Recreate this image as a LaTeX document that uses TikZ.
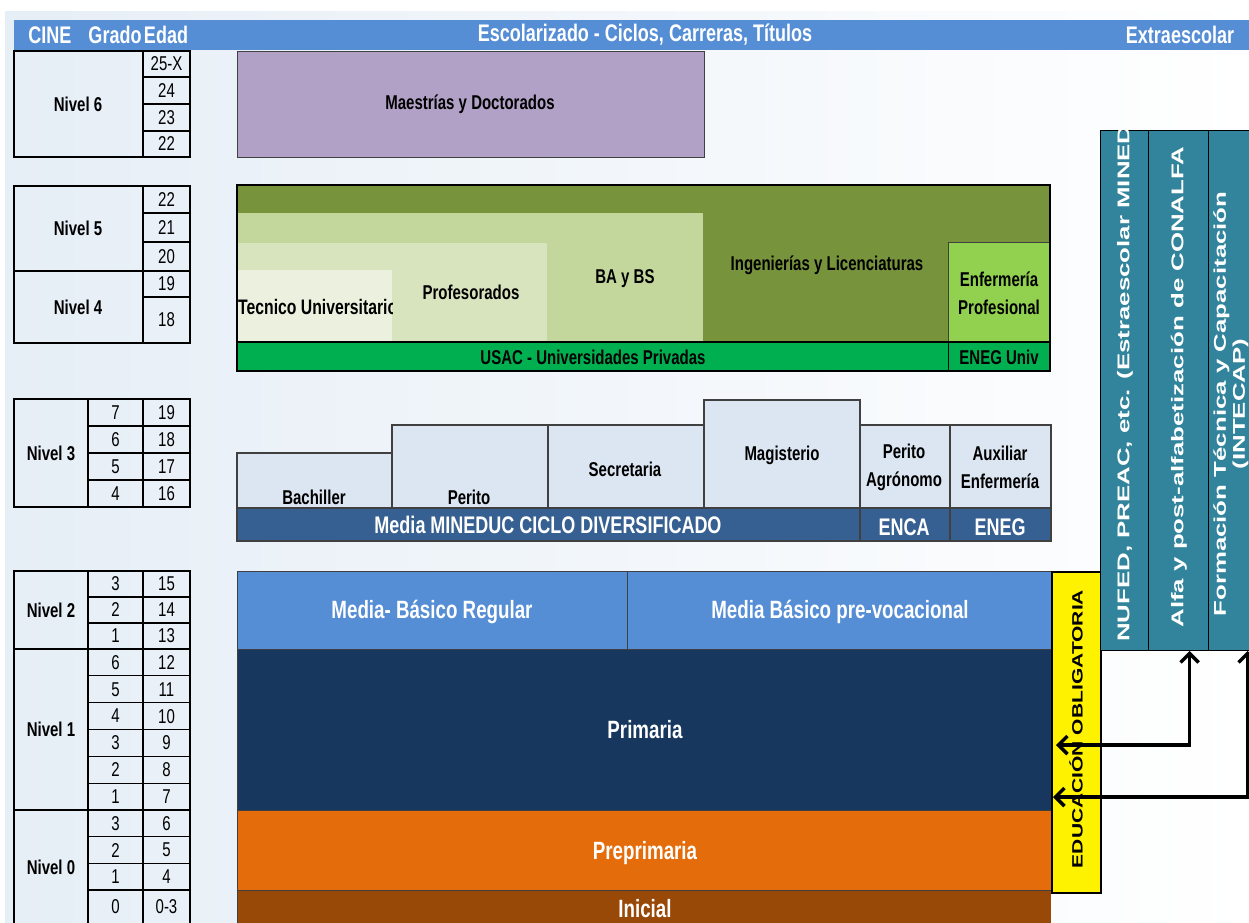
\documentclass[tikz,border=0pt]{standalone}
\usepackage{fontspec}
\setmainfont[FakeStretch=0.75]{Liberation Sans}
\newfontfamily\vfont[FakeStretch=1.52]{Liberation Sans}
\newfontfamily\ofont[FakeStretch=1.4]{Liberation Sans}
\usetikzlibrary{arrows.meta}
\definecolor{hdrblue}{HTML}{558ED5}
\definecolor{lilac}{HTML}{B2A1C7}
\definecolor{olive}{HTML}{77933C}
\definecolor{olivelt}{HTML}{C3D69B}
\definecolor{olivelttwo}{HTML}{D7E4BD}
\definecolor{oliveltthree}{HTML}{EBF1DE}
\definecolor{limegreen}{HTML}{92D050}
\definecolor{brightgreen}{HTML}{00B050}
\definecolor{paleblue}{HTML}{DCE6F2}
\definecolor{steelblue}{HTML}{376092}
\definecolor{midblue}{HTML}{558ED5}
\definecolor{navy}{HTML}{17375E}
\definecolor{orangeb}{HTML}{E46C0A}
\definecolor{brownb}{HTML}{984807}
\definecolor{tealb}{HTML}{31849B}
\definecolor{bgblue}{HTML}{E6EEF6}
\definecolor{edgegray}{HTML}{404040}
\begin{document}
\begin{tikzpicture}[x=1pt,y=-1pt,
  tline/.style={draw=black,line width=1.3pt},
  nivel/.style={font=\fontsize{20}{22}\selectfont\bfseries,inner sep=0pt},
  num/.style={font=\fontsize{20}{22}\selectfont,inner sep=0pt},
  hdr/.style={text=white,font=\fontsize{24}{26}\selectfont\bfseries,inner sep=0pt},
  blk/.style={font=\fontsize{20}{28}\selectfont\bfseries,inner sep=0pt,align=center},
  wht/.style={text=white,font=\fontsize{25}{28}\selectfont\bfseries,inner sep=0pt},
  whtm/.style={text=white,font=\fontsize{24}{28}\selectfont\bfseries,inner sep=0pt},
  dbox/.style={fill=paleblue,draw=edgegray,line width=1.2pt},
  bar/.style={draw=black,line width=1pt,fill=tealb,minimum height=520pt,anchor=north west,inner sep=0pt},
  vtxt/.style={rotate=90,text=white,font=\vfont\bfseries\fontsize{17}{19}\selectfont,inner sep=0pt,align=center},
  flow/.style={draw=black,line width=3.5pt,{Straight Barb[length=9pt,width=18pt]}-{Straight Barb[length=9pt,width=18pt]}},
]
\useasboundingbox (0,0) rectangle (1249,922);
\clip (0,0) rectangle (1249,922);
\fill[white] (0,0) rectangle (1249,922);
\shade[left color=bgblue,right color=white] (5,11) rectangle (1249,922);

% header
\fill[hdrblue] (14,20) rectangle (1249,50);
\node[hdr] (hcine) at (50,35) {CINE};
\node[hdr] (hgrado) at (115,35) {Grado};
\node[hdr] (hedad) at (166,35) {Edad};
\node[hdr] (hesc) at (645,35) {Escolarizado - Ciclos, Carreras, Títulos};
\node[hdr] (hext) at (1180,35) {Extraescolar};

% table: Nivel 6
\draw[tline] (14,51) rectangle (190,157) (143,51) -- (143,157);
\foreach \yy in {77,104,131} \draw[tline] (143,\yy) -- (190,\yy);
\node[nivel] (n6) at (78,104) {Nivel 6};
\foreach \t/\yy [count=\i] in {25-X/64,24/90.5,23/117.5,22/144} \node[num] (esix\i) at (166.5,\yy) {\t};

% table: Nivel 5 / 4
\draw[tline] (14,186) rectangle (190,343) (143,186) -- (143,343) (14,271) -- (190,271);
\foreach \yy in {213,242,297} \draw[tline] (143,\yy) -- (190,\yy);
\node[nivel] (n5) at (78,228.5) {Nivel 5};
\node[nivel] (n4) at (78,307) {Nivel 4};
\foreach \t/\yy [count=\i] in {22/199.5,21/227.5,20/256.5,19/284,18/320} \node[num] (efive\i) at (166.5,\yy) {\t};

% table: Nivel 3
\draw[tline] (14,399) rectangle (190,507) (88,399) -- (88,507) (143,399) -- (143,507);
\foreach \yy in {426,453,480} \draw[tline] (88,\yy) -- (190,\yy);
\node[nivel] (n3) at (51,453) {Nivel 3};
\foreach \g/\e/\yy [count=\i] in {7/19/412.5,6/18/439.5,5/17/466.5,4/16/493.5} {
  \node[num] (gthree\i) at (115.5,\yy) {\g};
  \node[num] (ethree\i) at (166.5,\yy) {\e};
}

% table: Nivel 2 / 1 / 0
\draw[tline] (14,925) -- (14,571) -- (190,571) -- (190,925) (88,571) -- (88,925) (143,571) -- (143,925)
  (14,649) -- (190,649) (14,810) -- (190,810);
\foreach \yy in {597,623,675.8,702.7,729.5,756.3,783.2,836.7,863.3,890} \draw[tline] (88,\yy) -- (190,\yy);
\node[nivel] (n2) at (51,610) {Nivel 2};
\node[nivel] (n1) at (51,729.5) {Nivel 1};
\node[nivel] (n0) at (51,867) {Nivel 0};
\foreach \g/\e/\yy [count=\i] in {3/15/584,2/14/610,1/13/636,6/12/662.4,5/11/689.3,4/10/716.1,3/9/742.9,2/8/769.8,1/7/796.6,3/6/823.4,2/5/850,1/4/876.7,0/0-3/907} {
  \node[num] (glow\i) at (115.5,\yy) {\g};
  \node[num] (elow\i) at (166.5,\yy) {\e};
}

% Maestrias
\draw[fill=lilac,draw=edgegray,line width=1pt] (237,51) rectangle (704,157);
\node[blk] (maest) at (470,104) {Maestrías y Doctorados};

% green block
\fill[olive] (237,185) rectangle (1050,342);
\fill[olivelt] (237,213) rectangle (703,342);
\fill[olivelttwo] (237,243) rectangle (547,342);
\fill[oliveltthree] (237,270) rectangle (392,342);
\draw[fill=limegreen,draw=edgegray,line width=0.8pt] (948,242) rectangle (1050,342);
\fill[brightgreen] (237,342) rectangle (1050,371);
\draw[black,line width=1.2pt] (237,342) -- (1050,342);
\draw[black,line width=0.8pt] (948,342) -- (948,371);
\draw[black,line width=2pt] (237,185) rectangle (1050,371);
\begin{scope}
  \clip (237,270) rectangle (392,342);
  \node[blk,anchor=west,font=\fontsize{21}{28}\selectfont\bfseries] (tecuni) at (238,307) {Tecnico Universitario};
\end{scope}
\node[blk] (prof) at (471,292) {Profesorados};
\node[blk] (bays) at (625,279) {BA y BS};
\node[blk] (ingl) at (827,265) {Ingenierías y Licenciaturas};
\node[blk] (enfp) at (999,293) {Enfermería\\Profesional};
\node[blk] (usac) at (593,357) {USAC - Universidades Privadas};
\node[blk] (enegu) at (999,357) {ENEG Univ};

% Media diversificado
\draw[dbox] (237,453) rectangle (392,508);
\draw[dbox] (392,425) rectangle (548,508);
\draw[dbox] (548,425) rectangle (704,508);
\draw[dbox] (704,400) rectangle (860,508);
\draw[dbox] (860,425) rectangle (950,508);
\draw[dbox] (950,425) rectangle (1051,508);
\draw[fill=steelblue,draw=edgegray,line width=1.2pt] (237,508) rectangle (1051,541);
\draw[edgegray,line width=1.2pt] (860,508) -- (860,541) (950,508) -- (950,541);
\node[blk] (bach) at (314,497) {Bachiller};
\node[blk] (perito) at (469,497) {Perito};
\node[blk] (secre) at (625,469) {Secretaria};
\node[blk] (magis) at (782,455) {Magisterio};
\node[blk] (pagro) at (904,467) {Perito\\Agrónomo};
\node[blk] (auxe) at (1000,467) {Auxiliar\\Enfermería};
\node[whtm] (mineduc) at (548,525) {Media MINEDUC CICLO DIVERSIFICADO};
\node[whtm] (enca) at (904,527) {ENCA};
\node[whtm] (eneg) at (1000,527) {ENEG};

% basic / primary / pre-primary
\fill[midblue] (237,571) rectangle (1051,649);
\fill[navy] (237,649) rectangle (1051,810);
\fill[orangeb] (237,810) rectangle (1051,890);
\fill[brownb] (237,890) rectangle (1051,925);
\draw[edgegray,line width=1pt] (237,925) -- (237,571) -- (1051,571) (237,649) -- (1051,649)
  (237,810) -- (1051,810) (237,890) -- (1051,890) (627,571) -- (627,649);
\node[wht] (mbr) at (432,612) {Media- Básico Regular};
\node[wht] (mbp) at (840,612) {Media Básico pre-vocacional};
\node[wht] (prim) at (645,730) {Primaria};
\node[wht] (preprim) at (645,853) {Preprimaria};
\node[wht] (inicial) at (645,909) {Inicial};

% obligatory education
\node[draw=black,line width=1.5pt,fill=yellow,minimum width=49pt,minimum height=321pt,anchor=north west,inner sep=0pt] (oblig) at (1051,571) {};
\node[rotate=90,font=\ofont\bfseries\fontsize{15}{17}\selectfont,inner sep=0pt] (obligtxt) at (1076,729) {EDUCACIÓN OBLIGATORIA};

% extra-school bars
\node[bar,minimum width=48pt] (nufed) at (1100,130) {};
\node[bar,minimum width=60pt] (alfa) at (1148,130) {};
\node[bar,minimum width=52pt] (intecap) at (1208,130) {};
\begin{scope}
  \clip (1100,130) rectangle (1249,650);
  \node[vtxt,anchor=west] (nufedtxt) at (1125,642) {NUFED, PREAC, etc. (Estraescolar MINEDUC)};
  \node[vtxt] (alfatxt) at (1179,387) {Alfa y post-alfabetización de CONALFA};
  \node[vtxt] (intecaptxt) at (1231,404) {Formación Técnica y Capacitación\\(INTECAP)};
\end{scope}

% arrows
\coordinate (aone) at (1056,745);
\coordinate (atwo) at (1053,797);
\draw[flow] ([xshift=11pt]alfa.south) |- (aone);
\draw[flow] ([xshift=13pt]intecap.south) |- (atwo);
\end{tikzpicture}
\end{document}
